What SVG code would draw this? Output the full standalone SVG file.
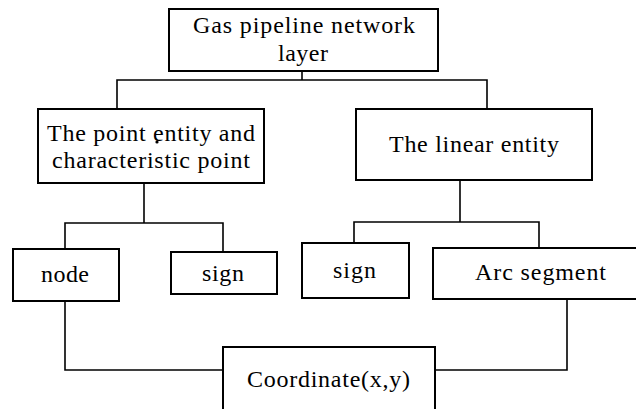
<svg xmlns="http://www.w3.org/2000/svg" width="636" height="409" viewBox="0 0 636 409">
<style>
.box{fill:#fff;stroke:#000;stroke-width:2}
.c{fill:none;stroke:#000;stroke-width:1.6}
.t{font-family:'Liberation Serif','Times New Roman',serif;font-size:24px;fill:#000}
</style>
<rect width="636" height="409" fill="#fff"/>
<g id="connectors">
<polyline class="c" points="302,71 302,80"/>
<polyline class="c" points="117,109 117,80 487,80 487,109"/>
<polyline class="c" points="144,183 144,223"/>
<polyline class="c" points="65,249 65,223 223,223 223,252"/>
<polyline class="c" points="460,180 460,222"/>
<polyline class="c" points="354,243 354,222 539,222 539,248"/>
<polyline class="c" points="65,301 65,370 223,370"/>
<polyline class="c" points="567,299 567,370 435,370"/>
</g>
<g id="n-gas">
<rect class="box" x="169" y="9" width="269" height="62"/>
<text class="t" x="193" y="33" textLength="222" lengthAdjust="spacing">Gas pipeline network</text>
<text class="t" x="278" y="61" textLength="50" lengthAdjust="spacing">layer</text>
</g>
<g id="n-point">
<rect class="box" x="38" y="109" width="226" height="74"/>
<text class="t" x="47" y="141" textLength="208" lengthAdjust="spacing">The point entity and</text>
<text class="t" x="52" y="168" textLength="198" lengthAdjust="spacing">characteristic point</text>
<circle cx="157" cy="142" r="1.6" fill="#000"/>
</g>
<g id="n-linear">
<rect class="box" x="356" y="109" width="236" height="71"/>
<text class="t" x="389" y="152" textLength="170" lengthAdjust="spacing">The linear entity</text>
</g>
<g id="n-node">
<rect class="box" x="13" y="249" width="106" height="52"/>
<text class="t" x="41" y="282" textLength="48" lengthAdjust="spacing">node</text>
</g>
<g id="n-sign1">
<rect class="box" x="171" y="252" width="106" height="42"/>
<text class="t" x="202" y="281" textLength="42" lengthAdjust="spacing">sign</text>
</g>
<g id="n-sign2">
<rect class="box" x="302" y="243" width="107" height="55"/>
<text class="t" x="333" y="278" textLength="43" lengthAdjust="spacing">sign</text>
</g>
<g id="n-arc">
<rect class="box" x="433" y="248" width="210" height="51"/>
<text class="t" x="475" y="280" textLength="131" lengthAdjust="spacing">Arc segment</text>
</g>
<g id="n-coord">
<rect class="box" x="223" y="347" width="212" height="70"/>
<text class="t" x="247" y="387" textLength="163" lengthAdjust="spacing">Coordinate(x,y)</text>
</g>
</svg>
